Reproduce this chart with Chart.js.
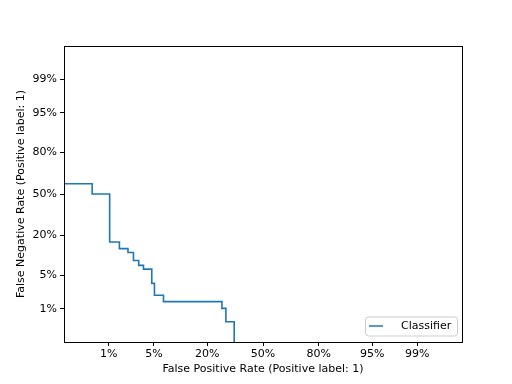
<!DOCTYPE html>
<html>
<head>
<meta charset="utf-8">
<script src="https://cdn.jsdelivr.net/npm/chart.js@4.4.0/dist/chart.umd.min.js"></script>
<style>
  body { margin: 0; background: #fff; }
  #wrap { width: 512px; height: 384px; }
</style>
</head>
<body>
<div id="wrap"><canvas id="detChart" width="512" height="384"></canvas></div>
<script>
// DET curve vertices, rates in percent
const fprPct = [0, 0.5, 0.5, 1.04, 1.04, 1.52, 1.52, 2.09, 2.09, 2.54, 2.54, 3.05, 3.05, 3.58, 3.58, 4.68, 4.68, 5.09, 5.09, 6.68, 6.68, 26.8, 26.8, 28.8, 28.8, 33.2, 33.2];
const fnrPct = [58.2, 58.2, 50, 50, 16.5, 16.5, 13.4, 13.4, 11.8, 11.8, 8.9, 8.9, 7.4, 7.4, 6.4, 6.4, 3.5, 3.5, 2.0, 2.0, 1.46, 1.46, 1.02, 1.02, 0.48, 0.48, 0];

const tickPct = [1, 5, 20, 50, 80, 95, 99];
const tickLabels = ['1%', '5%', '20%', '50%', '80%', '95%', '99%'];

// inverse normal CDF (Acklam), axes are in normal deviate units
function ppf(p) {
    if (p <= 0) return -8;
    if (p >= 1) return 8;
    const a = [-39.69683028665376, 220.9460984245205, -275.9285104469687, 138.3577518672690, -30.66479806614716, 2.506628277459239];
    const b = [-54.47609879822406, 161.5858368580409, -155.6989798598866, 66.80131188771972, -13.28068155288572];
    const c = [-0.007784894002430293, -0.3223964580411365, -2.400758277161838, -2.549732539343734, 4.374664141464968, 2.938163982698783];
    const d = [0.007784695709041462, 0.3224671290700398, 2.445134137142996, 3.754408661907416];
    const pl = 0.02425;
    let q, r;
    if (p < pl) {
        q = Math.sqrt(-2 * Math.log(p));
        return (((((c[0]*q+c[1])*q+c[2])*q+c[3])*q+c[4])*q+c[5]) / ((((d[0]*q+d[1])*q+d[2])*q+d[3])*q+1);
    }
    if (p > 1 - pl) {
        q = Math.sqrt(-2 * Math.log(1 - p));
        return -(((((c[0]*q+c[1])*q+c[2])*q+c[3])*q+c[4])*q+c[5]) / ((((d[0]*q+d[1])*q+d[2])*q+d[3])*q+1);
    }
    q = p - 0.5;
    r = q * q;
    return (((((a[0]*r+a[1])*r+a[2])*r+a[3])*r+a[4])*r+a[5])*q / (((((b[0]*r+b[1])*r+b[2])*r+b[3])*r+b[4])*r+1);
}

const points = fprPct.map((f, i) => ({ x: ppf(f / 100), y: ppf(fnrPct[i] / 100) }));
const tickVals = tickPct.map(t => ppf(t / 100));

function labelFor(v) {
    const i = tickVals.findIndex(t => Math.abs(t - v) < 1e-6);
    return i >= 0 ? tickLabels[i] : '';
}

const FONT = { family: 'DejaVu Sans', size: 11 };

// frame around plot + legend inside lower right
const framePlugin = {
    id: 'frame',
    afterDraw(chart) {
        const { ctx, chartArea: a } = chart;
        ctx.save();
        ctx.strokeStyle = '#000';
        ctx.lineWidth = 1;
        ctx.strokeRect(Math.round(a.left) + 0.5, Math.round(a.top) + 0.5, Math.round(a.right - a.left), Math.round(a.bottom - a.top));

        // legend
        const w = 92, h = 19;
        const x = a.right - 5 - w, y = a.bottom - 6.5 - h;
        ctx.fillStyle = 'rgba(255,255,255,0.8)';
        ctx.strokeStyle = '#cccccc';
        ctx.beginPath();
        ctx.roundRect(x + 0.5, y + 0.5, w, h, 3);
        ctx.fill();
        ctx.stroke();
        ctx.strokeStyle = '#1f77b4';
        ctx.lineWidth = 1.5;
        ctx.beginPath();
        ctx.moveTo(x + 4, y + 9.5);
        ctx.lineTo(x + 18, y + 9.5);
        ctx.stroke();
        ctx.fillStyle = '#000';
        ctx.font = '11px "DejaVu Sans"';
        ctx.textBaseline = 'middle';
        ctx.fillText('Classifier', x + 36, y + 10);
        ctx.restore();
    }
};

const ctx = document.getElementById('detChart').getContext('2d');
const detChart = new Chart(ctx, {
    type: 'line',
    data: {
        datasets: [{
            label: 'Classifier',
            data: points,
            borderColor: '#1f77b4',
            borderWidth: 1.6,
            pointRadius: 0,
            tension: 0,
            fill: false
        }]
    },
    options: {
        responsive: false,
        animation: false,
        layout: { padding: { top: 46, right: 50, left: 0, bottom: 0 } },
        plugins: {
            legend: { display: false },
            tooltip: { enabled: false }
        },
        scales: {
            x: {
                type: 'linear',
                min: -3,
                max: 3,
                afterBuildTicks(scale) { scale.ticks = tickVals.map(v => ({ value: v })); },
                afterFit(scale) { scale.height = 42; },
                ticks: { callback: labelFor, color: '#000', font: FONT, padding: 2, maxRotation: 0, autoSkip: false },
                grid: { drawOnChartArea: false, tickLength: 4, color: '#000' },
                border: { color: '#000' },
                title: { display: true, text: 'False Positive Rate (Positive label: 1)', color: '#000', font: FONT, padding: { top: 0, bottom: 8 } }
            },
            y: {
                type: 'linear',
                min: -3,
                max: 3,
                afterBuildTicks(scale) { scale.ticks = tickVals.map(v => ({ value: v })); },
                afterFit(scale) { scale.width = 64; },
                ticks: { callback: labelFor, color: '#000', font: FONT, padding: 3, autoSkip: false },
                grid: { drawOnChartArea: false, tickLength: 4, color: '#000' },
                border: { color: '#000' },
                title: { display: true, text: 'False Negative Rate (Positive label: 1)', color: '#000', font: FONT, padding: { top: 15, bottom: 0 } }
            }
        }
    },
    plugins: [framePlugin]
});
</script>
</body>
</html>
